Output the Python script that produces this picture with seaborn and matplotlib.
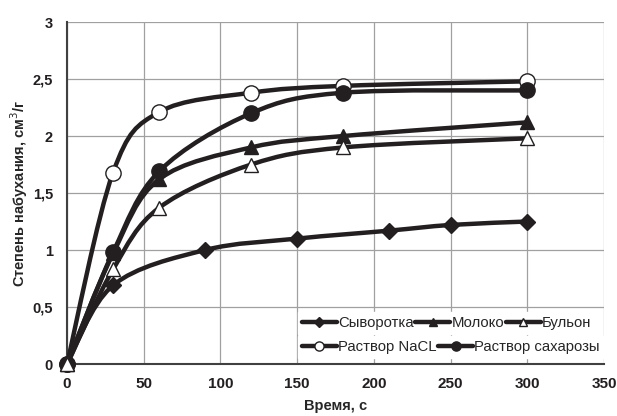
import numpy as np
import pandas as pd
import matplotlib
matplotlib.use("Agg")
import matplotlib.pyplot as plt
from matplotlib.path import Path
from matplotlib.patches import PathPatch
from matplotlib.lines import Line2D
import seaborn as sns

# время, с
t_syv = [0, 30, 90, 150, 210, 250, 300]
y_syv = [0, 0.69, 1.0, 1.1, 1.17, 1.22, 1.25]

t_main = [0, 30, 60, 120, 180, 300]
y_moloko = [0, 0.97, 1.62, 1.9, 2.0, 2.12]
y_bulon = [0, 0.83, 1.37, 1.75, 1.9, 1.98]
y_nacl = [0, 1.68, 2.21, 2.38, 2.44, 2.48]
y_sahar = [0, 0.98, 1.69, 2.2, 2.38, 2.4]

x_ticks = [0, 50, 100, 150, 200, 250, 300, 350]
y_ticks = [0, 0.5, 1, 1.5, 2, 2.5, 3]
y_ticklabels = ["0", "0,5", "1", "1,5", "2", "2,5", "3"]

dark = "#231f20"


def smooth_path(x, y):
    # сглаженная линия как в Excel (безье через точки)
    p = np.column_stack([x, y]).astype(float)
    n = len(p)
    verts = [p[0]]
    codes = [Path.MOVETO]
    for i in range(n - 1):
        p0 = p[i - 1] if i > 0 else p[i]
        p3 = p[i + 2] if i + 2 < n else p[i + 1]
        c1 = p[i] + (p[i + 1] - p0) / 6
        c2 = p[i + 1] - (p3 - p[i]) / 6
        verts += [c1, c2, p[i + 1]]
        codes += [Path.CURVE4] * 3
    return Path(verts, codes)


sns.set_style("white")
plt.rcParams['font.family'] = ['Liberation Sans', 'DejaVu Sans']

fig, ax = plt.subplots(figsize=(6.17, 4.16), dpi=100)
fig.subplots_adjust(left=0.1086, right=0.979, top=0.947, bottom=0.125)

series = [
    ("Сыворотка", t_syv, y_syv, "D", dark, 8),
    ("Раствор NaCL", t_main, y_nacl, "o", "white", 11),
    ("Молоко", t_main, y_moloko, "^", dark, 10),
    ("Раствор сахарозы", t_main, y_sahar, "o", dark, 11),
    ("Бульон", t_main, y_bulon, "^", "white", 10),
]
handles = {}
for name, t, y, m, fc, ms in series:
    ax.add_patch(PathPatch(smooth_path(t, y), fill=False, edgecolor=dark,
                           lw=3.2, capstyle="round", joinstyle="round", zorder=3))
    sns.lineplot(x=t, y=y, ax=ax, color=dark, linestyle="", marker=m,
                 markersize=ms, markerfacecolor=fc, markeredgecolor=dark,
                 markeredgewidth=1.0, zorder=4, clip_on=False)
    handles[name] = Line2D([], [], color=dark, lw=3.2, marker=m, markersize=ms * 0.6,
                           markerfacecolor=fc, markeredgecolor=dark, markeredgewidth=1.0)

ax.set_xlim(0, 350)
ax.set_ylim(0, 3)
ax.set_xticks(x_ticks)
ax.set_yticks(y_ticks)
ax.set_yticklabels(y_ticklabels)
ax.grid(True, color="#a0a0a0", lw=0.9)
for s in ["top", "right"]:
    ax.spines[s].set_visible(False)
for s in ["left", "bottom"]:
    ax.spines[s].set_color("#404040")
    ax.spines[s].set_linewidth(1.5)
ax.tick_params(axis="x", direction="in", length=4, color="#404040", pad=9)
ax.tick_params(axis="y", direction="out", length=4, color="#404040", pad=6)
for lab in ax.get_xticklabels() + ax.get_yticklabels():
    lab.set_fontweight("bold")
    lab.set_fontsize(10.5)
    lab.set_color(dark)
for lab in ax.get_xticklabels():
    lab.set_fontsize(11)
ax.set_xlabel("Время, с", fontsize=10.5, fontweight="bold", labelpad=6)
ax.set_ylabel("Степень набухания, см$^3$/г", fontsize=10.5, fontweight="bold", labelpad=2)

row1 = ["Сыворотка", "Молоко", "Бульон"]
row2 = ["Раствор NaCL", "Раствор сахарозы"]
leg_kw = dict(frameon=True, fontsize=10.7, handlelength=2.35, handletextpad=0.1,
              columnspacing=0.1, borderpad=0.25, fancybox=False, borderaxespad=0)
leg1 = ax.legend([handles[k] for k in row1], row1, ncol=3, loc="center left",
                 bbox_to_anchor=(0.43, 0.12), **leg_kw)
leg1.get_frame().set_edgecolor("white")
leg1.get_frame().set_alpha(1)
ax.add_artist(leg1)
leg2 = ax.legend([handles[k] for k in row2], row2, ncol=2, loc="center left",
                 bbox_to_anchor=(0.43, 0.05), **leg_kw)
leg2.get_frame().set_edgecolor("white")
leg2.get_frame().set_alpha(1)
leg1.set_zorder(5)
leg2.set_zorder(5)

fig.savefig("out.png", dpi=100)
